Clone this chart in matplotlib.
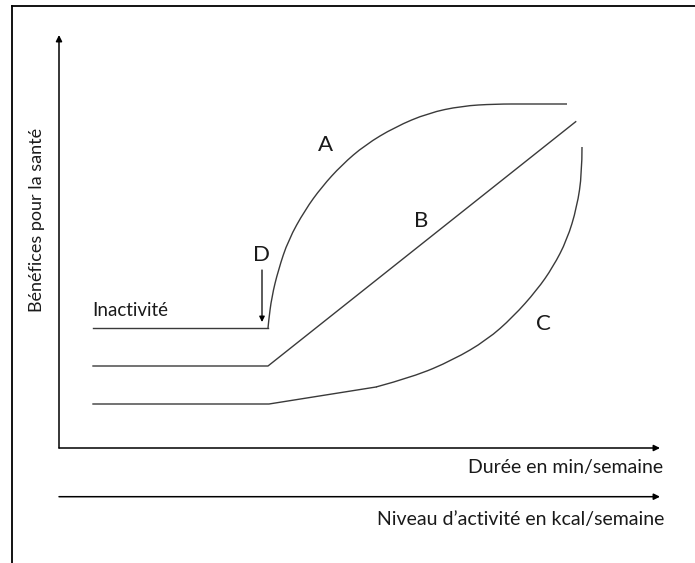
import matplotlib
matplotlib.use("Agg")
import matplotlib.pyplot as plt
from matplotlib.lines import Line2D
from matplotlib.path import Path
from matplotlib.patches import PathPatch

# schematic curves (arbitrary units, origin at axes corner)
flat_x = [34, 209]
inact_y = 120
b_flat_y = 82
c_flat_y = 44

# rising part of A (starts at end of the inactivity line)
a_x = [209, 209.5, 212.7, 219.3, 229.3, 246, 262.7, 282.7, 306, 336, 369.3, 402.7, 436, 470, 508]
a_y = [120, 126, 151, 178, 208, 238, 261, 283, 303, 321, 335, 342, 344, 344, 344]

b_x = [210, 516.7]
b_y = [82, 326.3]

# C: straight bit then the curve
c_x = [210, 317, 354, 394, 428, 454, 478, 494, 508, 518, 523, 523]
c_y = [44, 61, 71, 88, 108, 131, 158, 181, 208, 241, 275, 301]

curve_names = ["A", "B", "C", "D"]
name_x = [267, 361.7, 484.3, 202.7]
name_y = [303, 227.3, 123.7, 193]

d_from = (203, 178)
d_to = (203, 126)

x_end = 601
y_end = 413
kcal_y = -48.7

plt.rcParams['font.family'] = ['Lato', 'DejaVu Sans']


def smooth_path(xs, ys, n_straight=0):
    # quadratic bezier through midpoints, first n_straight segments kept straight
    pts = list(zip(xs, ys))
    verts = [pts[0]]
    codes = [Path.MOVETO]
    for p in pts[1:n_straight + 1]:
        verts.append(p)
        codes.append(Path.LINETO)
    rest = pts[n_straight:]
    for i in range(1, len(rest) - 1):
        mid = ((rest[i][0] + rest[i + 1][0]) / 2, (rest[i][1] + rest[i + 1][1]) / 2)
        if i == len(rest) - 2:
            mid = rest[-1]
        verts += [rest[i], mid]
        codes += [Path.CURVE3, Path.CURVE3]
    return Path(verts, codes)


fig = plt.figure(figsize=(6.95, 5.63), dpi=100)
ax = fig.add_axes([0, 0, 1, 1])
ax.set_xlim(-59, 636)
ax.set_ylim(-115, 448)
ax.axis('off')

# frame (only left and top edges visible)
fig.add_artist(Line2D([12/695, 12/695], [0, 1 - 6/563], color='black', lw=1.3))
fig.add_artist(Line2D([12/695, 1], [1 - 6/563, 1 - 6/563], color='black', lw=1.3))

arrow = dict(arrowstyle='-|>', color='black', lw=1.1, mutation_scale=9, shrinkA=0, shrinkB=0)
ax.annotate("", xy=(0, y_end), xytext=(0, 0), arrowprops=arrow)
ax.annotate("", xy=(x_end, 0), xytext=(0, 0), arrowprops=arrow)
ax.annotate("", xy=(x_end, kcal_y), xytext=(0, kcal_y), arrowprops=arrow)

line_col = '#3a3a3a'
ax.plot(flat_x, [inact_y, inact_y], color=line_col, lw=1.0)
ax.plot(flat_x + b_x[1:], [b_flat_y, b_flat_y] + b_y[1:], color=line_col, lw=1.0)
ax.plot([flat_x[0]] + c_x[:2], [c_flat_y] + c_y[:2], color=line_col, lw=1.0)

ax.add_patch(PathPatch(smooth_path(a_x, a_y), fill=False, edgecolor=line_col, lw=1.0))
ax.add_patch(PathPatch(smooth_path(c_x[1:], c_y[1:]), fill=False, edgecolor=line_col, lw=1.0))

ax.annotate("", xy=d_to, xytext=d_from,
            arrowprops=dict(arrowstyle='-|>', color='black', lw=0.9, mutation_scale=8, shrinkA=0, shrinkB=0))

for name, nx, ny in zip(curve_names, name_x, name_y):
    ax.text(nx, ny, name, fontsize=16, ha='center', va='center', color='#1a1a1a')

ax.text(33.4, 137.3, "Inactivité", fontsize=13.5, ha='left', va='center', color='#1a1a1a')
ax.text(-22, 228, "Bénéfices pour la santé", fontsize=13, rotation=90,
        ha='center', va='center', color='#1a1a1a')
ax.text(603.7, -19.7, "Durée en min/semaine", fontsize=14, ha='right', va='center', color='#1a1a1a')
ax.text(605, -72, "Niveau d’activité en kcal/semaine", fontsize=14, ha='right', va='center', color='#1a1a1a')

fig.savefig("out.png", dpi=100)
